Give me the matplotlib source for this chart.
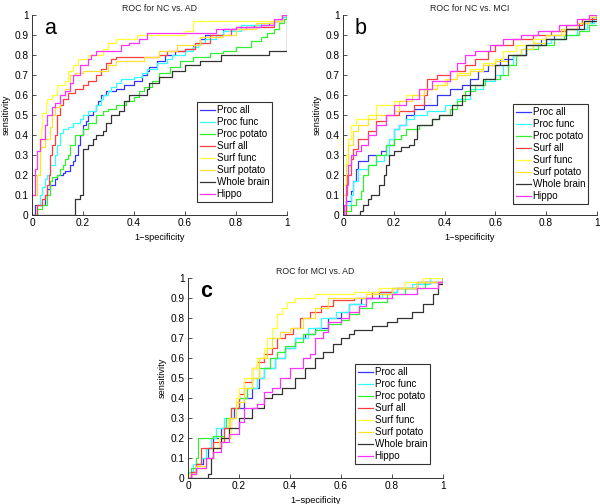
import matplotlib.pyplot as plt
from matplotlib.ticker import FormatStrFormatter

plt.rcParams['font.family'] = ['Liberation Sans', 'DejaVu Sans']

labels = ["Proc all", "Proc func", "Proc potato", "Surf all",
          "Surf func", "Surf potato", "Whole brain", "Hippo"]
colors = ["#3535ff", "#33ffff", "#33f033", "#ff3e3e",
          "#ffff33", "#ffe033", "#333333", "#ff33ff"]

# corner points (1-specificity, sensitivity) of each ROC staircase
# NC vs. AD
a_proc_all = [(0, 0), (0.01, 0.05), (0.05, 0.1), (0.06, 0.13), (0.07, 0.15), (0.09, 0.18), (0.1, 0.2),
              (0.12, 0.21), (0.13, 0.22), (0.15, 0.25), (0.16, 0.27), (0.17, 0.3), (0.18, 0.35), (0.19, 0.4),
              (0.2, 0.45), (0.21, 0.47), (0.22, 0.5), (0.24, 0.52), (0.25, 0.55), (0.26, 0.57), (0.27, 0.6),
              (0.29, 0.62), (0.33, 0.63), (0.36, 0.65), (0.4, 0.67), (0.43, 0.7), (0.45, 0.72), (0.46, 0.74),
              (0.49, 0.77), (0.52, 0.8), (0.56, 0.82), (0.6, 0.83), (0.63, 0.85), (0.66, 0.88), (0.68, 0.9),
              (0.75, 0.93), (0.8, 0.94), (0.87, 0.95), (0.93, 0.96), (0.95, 0.97), (0.98, 0.99), (1, 1)]
a_proc_func = [(0, 0), (0.02, 0.05), (0.03, 0.1), (0.04, 0.14), (0.05, 0.18), (0.06, 0.2), (0.07, 0.25),
               (0.09, 0.3), (0.1, 0.35), (0.11, 0.41), (0.12, 0.43), (0.14, 0.44), (0.16, 0.46), (0.19, 0.48),
               (0.2, 0.5), (0.22, 0.52), (0.25, 0.55), (0.27, 0.58), (0.28, 0.6), (0.3, 0.62), (0.31, 0.64),
               (0.33, 0.66), (0.35, 0.68), (0.4, 0.69), (0.43, 0.71), (0.45, 0.73), (0.49, 0.76), (0.53, 0.78),
               (0.55, 0.8), (0.6, 0.82), (0.63, 0.84), (0.65, 0.86), (0.68, 0.88), (0.72, 0.9), (0.75, 0.92),
               (0.82, 0.95), (0.9, 0.96), (0.95, 0.97), (0.98, 0.99), (1, 1)]
a_proc_potato = [(0, 0), (0.02, 0.03), (0.04, 0.05), (0.06, 0.1), (0.07, 0.17), (0.08, 0.19), (0.1, 0.2),
                 (0.11, 0.23), (0.12, 0.25), (0.13, 0.28), (0.14, 0.3), (0.15, 0.35), (0.17, 0.4), (0.2, 0.43),
                 (0.22, 0.46), (0.25, 0.5), (0.28, 0.52), (0.3, 0.53), (0.33, 0.55), (0.37, 0.57), (0.4, 0.59),
                 (0.42, 0.62), (0.44, 0.64), (0.47, 0.67), (0.5, 0.71), (0.54, 0.74), (0.58, 0.77), (0.63, 0.79),
                 (0.7, 0.81), (0.75, 0.82), (0.8, 0.84), (0.86, 0.87), (0.9, 0.89), (0.92, 0.91), (0.95, 0.93),
                 (0.97, 0.96), (0.99, 0.98), (1, 1)]
a_surf_all = [(0, 0), (0.02, 0.05), (0.04, 0.08), (0.05, 0.1), (0.06, 0.15), (0.065, 0.2), (0.07, 0.3),
              (0.08, 0.35), (0.09, 0.4), (0.1, 0.5), (0.11, 0.55), (0.12, 0.58), (0.14, 0.61), (0.17, 0.63),
              (0.2, 0.65), (0.22, 0.67), (0.25, 0.7), (0.27, 0.73), (0.29, 0.76), (0.31, 0.78), (0.33, 0.79),
              (0.5, 0.8), (0.53, 0.82), (0.6, 0.83), (0.64, 0.86), (0.7, 0.9), (0.78, 0.93), (0.84, 0.94),
              (0.95, 0.97), (0.98, 1), (1, 1)]
a_surf_func = [(0, 0.1), (0.02, 0.2), (0.03, 0.33), (0.035, 0.43), (0.04, 0.51), (0.055, 0.56), (0.06, 0.58),
               (0.08, 0.6), (0.1, 0.65), (0.13, 0.67), (0.14, 0.72), (0.16, 0.75), (0.18, 0.78), (0.22, 0.8),
               (0.28, 0.83), (0.3, 0.86), (0.33, 0.88), (0.41, 0.9), (0.6, 0.92), (0.63, 0.97), (0.98, 1), (1, 1)]
a_surf_potato = [(0, 0.1), (0.02, 0.2), (0.03, 0.34), (0.05, 0.38), (0.07, 0.44), (0.08, 0.5), (0.09, 0.54),
                 (0.11, 0.6), (0.13, 0.63), (0.15, 0.7), (0.17, 0.71), (0.2, 0.72), (0.3, 0.75), (0.33, 0.77),
                 (0.44, 0.79), (0.5, 0.82), (0.57, 0.85), (0.66, 0.89), (0.75, 0.9), (0.8, 0.93), (0.88, 0.96),
                 (0.95, 0.97), (0.98, 1), (1, 1)]
a_whole_brain = [(0, 0), (0.17, 0.08), (0.19, 0.1), (0.2, 0.33), (0.22, 0.35), (0.24, 0.38), (0.25, 0.4),
                 (0.28, 0.42), (0.29, 0.46), (0.31, 0.5), (0.34, 0.52), (0.36, 0.57), (0.38, 0.6), (0.45, 0.63),
                 (0.46, 0.66), (0.5, 0.69), (0.55, 0.72), (0.6, 0.75), (0.66, 0.77), (0.74, 0.8), (0.93, 0.82),
                 (1, 1)]
a_hippo = [(0, 0.1), (0.01, 0.23), (0.02, 0.32), (0.03, 0.38), (0.05, 0.45), (0.06, 0.5), (0.08, 0.54),
           (0.09, 0.56), (0.11, 0.6), (0.13, 0.62), (0.15, 0.66), (0.16, 0.7), (0.19, 0.75), (0.22, 0.78),
           (0.23, 0.8), (0.25, 0.82), (0.35, 0.85), (0.38, 0.86), (0.42, 0.88), (0.45, 0.91), (0.72, 0.93),
           (0.8, 0.94), (0.9, 0.95), (0.95, 0.98), (0.98, 1), (1, 1)]

# NC vs. MCI
b_proc_all = [(0, 0), (0.005, 0.02), (0.01, 0.07), (0.03, 0.12), (0.04, 0.17), (0.05, 0.23), (0.06, 0.27),
              (0.1, 0.3), (0.15, 0.32), (0.17, 0.35), (0.2, 0.43), (0.22, 0.45), (0.25, 0.5), (0.28, 0.53),
              (0.32, 0.55), (0.37, 0.6), (0.42, 0.63), (0.47, 0.65), (0.5, 0.68), (0.53, 0.72), (0.57, 0.75),
              (0.62, 0.78), (0.67, 0.8), (0.72, 0.85), (0.78, 0.88), (0.83, 0.9), (0.88, 0.93), (0.93, 0.96),
              (0.98, 0.99), (1, 1)]
b_proc_func = [(0, 0), (0.005, 0.02), (0.01, 0.05), (0.03, 0.1), (0.04, 0.17), (0.06, 0.23), (0.1, 0.25),
               (0.13, 0.27), (0.16, 0.3), (0.18, 0.38), (0.2, 0.43), (0.22, 0.45), (0.25, 0.48), (0.28, 0.5),
               (0.33, 0.52), (0.4, 0.55), (0.45, 0.58), (0.5, 0.63), (0.55, 0.67), (0.6, 0.7), (0.63, 0.75),
               (0.67, 0.8), (0.7, 0.83), (0.75, 0.86), (0.82, 0.88), (0.88, 0.9), (0.92, 0.93), (0.96, 0.96),
               (0.99, 0.99), (1, 1)]
b_proc_potato = [(0, 0), (0.005, 0.02), (0.03, 0.05), (0.05, 0.08), (0.07, 0.12), (0.08, 0.2), (0.1, 0.25),
                 (0.13, 0.3), (0.17, 0.35), (0.2, 0.38), (0.23, 0.4), (0.25, 0.43), (0.3, 0.45), (0.35, 0.48),
                 (0.38, 0.5), (0.42, 0.53), (0.45, 0.57), (0.48, 0.62), (0.52, 0.65), (0.56, 0.68), (0.62, 0.7),
                 (0.65, 0.75), (0.68, 0.8), (0.72, 0.83), (0.77, 0.85), (0.83, 0.88), (0.87, 0.9), (0.93, 0.92),
                 (0.97, 0.95), (1, 1)]
b_surf_all = [(0, 0), (0.01, 0.1), (0.015, 0.2), (0.03, 0.28), (0.04, 0.33), (0.06, 0.38), (0.1, 0.42),
              (0.13, 0.47), (0.17, 0.5), (0.22, 0.52), (0.28, 0.55), (0.32, 0.6), (0.33, 0.68), (0.37, 0.7),
              (0.42, 0.72), (0.48, 0.75), (0.52, 0.78), (0.57, 0.82), (0.6, 0.85), (0.67, 0.88), (0.75, 0.9),
              (0.82, 0.92), (0.88, 0.95), (0.94, 0.98), (1, 1)]
b_surf_func = [(0, 0.15), (0.01, 0.3), (0.02, 0.38), (0.03, 0.45), (0.05, 0.48), (0.1, 0.5), (0.13, 0.55),
               (0.2, 0.57), (0.25, 0.6), (0.3, 0.63), (0.35, 0.65), (0.4, 0.68), (0.45, 0.71), (0.5, 0.73),
               (0.55, 0.76), (0.6, 0.78), (0.63, 0.82), (0.68, 0.85), (0.75, 0.88), (0.8, 0.9), (0.87, 0.93),
               (0.92, 0.96), (0.97, 0.99), (1, 1)]
b_surf_potato = [(0, 0.1), (0.01, 0.25), (0.02, 0.35), (0.04, 0.42), (0.06, 0.45), (0.1, 0.48), (0.13, 0.5),
                 (0.2, 0.52), (0.22, 0.57), (0.27, 0.6), (0.32, 0.63), (0.37, 0.65), (0.41, 0.68), (0.45, 0.7),
                 (0.5, 0.72), (0.55, 0.75), (0.6, 0.77), (0.65, 0.8), (0.7, 0.83), (0.75, 0.86), (0.8, 0.9),
                 (0.86, 0.93), (0.92, 0.96), (0.97, 0.99), (1, 1)]
b_whole_brain = [(0, 0), (0.065, 0.02), (0.08, 0.05), (0.1, 0.08), (0.11, 0.1), (0.14, 0.15), (0.16, 0.2),
                 (0.17, 0.25), (0.18, 0.3), (0.2, 0.32), (0.23, 0.34), (0.26, 0.35), (0.28, 0.38), (0.29, 0.45),
                 (0.35, 0.48), (0.38, 0.5), (0.43, 0.55), (0.47, 0.6), (0.5, 0.65), (0.55, 0.68), (0.6, 0.75),
                 (0.65, 0.8), (0.72, 0.85), (0.8, 0.88), (0.88, 0.93), (0.95, 0.97), (1, 1)]
b_hippo = [(0, 0), (0.005, 0.05), (0.01, 0.15), (0.02, 0.25), (0.03, 0.3), (0.05, 0.32), (0.07, 0.35),
           (0.1, 0.4), (0.13, 0.45), (0.17, 0.5), (0.2, 0.55), (0.25, 0.58), (0.3, 0.63), (0.35, 0.67),
           (0.42, 0.72), (0.45, 0.76), (0.48, 0.8), (0.52, 0.82), (0.58, 0.85), (0.63, 0.88), (0.7, 0.9),
           (0.77, 0.92), (0.85, 0.95), (0.92, 0.98), (0.97, 1), (1, 1)]

# MCI vs. AD
c_proc_all = [(0, 0), (0.01, 0.03), (0.03, 0.07), (0.06, 0.1), (0.08, 0.15), (0.1, 0.2), (0.13, 0.25),
              (0.16, 0.3), (0.18, 0.35), (0.22, 0.4), (0.25, 0.45), (0.28, 0.5), (0.3, 0.55), (0.34, 0.6),
              (0.38, 0.65), (0.42, 0.7), (0.46, 0.72), (0.5, 0.75), (0.55, 0.8), (0.6, 0.83), (0.63, 0.87),
              (0.68, 0.9), (0.75, 0.93), (0.82, 0.95), (0.9, 0.98), (1, 1)]
c_proc_func = [(0, 0), (0.005, 0.03), (0.02, 0.07), (0.05, 0.1), (0.07, 0.15), (0.09, 0.2), (0.11, 0.25),
               (0.14, 0.3), (0.17, 0.35), (0.2, 0.4), (0.23, 0.45), (0.27, 0.5), (0.3, 0.55), (0.34, 0.6),
               (0.38, 0.65), (0.42, 0.7), (0.47, 0.75), (0.52, 0.8), (0.58, 0.83), (0.63, 0.87), (0.7, 0.9),
               (0.76, 0.93), (0.82, 0.95), (0.88, 0.97), (0.95, 1), (1, 1)]
c_proc_potato = [(0, 0), (0.01, 0.05), (0.03, 0.1), (0.04, 0.2), (0.1, 0.21), (0.14, 0.25), (0.15, 0.3),
                 (0.17, 0.35), (0.2, 0.4), (0.23, 0.45), (0.25, 0.5), (0.28, 0.55), (0.32, 0.6), (0.35, 0.63),
                 (0.38, 0.66), (0.42, 0.68), (0.45, 0.72), (0.5, 0.74), (0.55, 0.77), (0.6, 0.79), (0.63, 0.82),
                 (0.67, 0.85), (0.72, 0.88), (0.78, 0.92), (0.85, 0.95), (0.93, 0.98), (1, 1)]
c_surf_all = [(0, 0), (0.01, 0.03), (0.03, 0.07), (0.05, 0.15), (0.1, 0.18), (0.14, 0.25), (0.17, 0.35),
              (0.2, 0.42), (0.22, 0.48), (0.25, 0.55), (0.27, 0.58), (0.3, 0.62), (0.33, 0.65), (0.35, 0.7),
              (0.38, 0.72), (0.41, 0.75), (0.44, 0.8), (0.48, 0.83), (0.52, 0.86), (0.57, 0.89), (0.65, 0.9),
              (0.72, 0.93), (0.8, 0.95), (0.9, 0.98), (1, 1)]
c_surf_func = [(0, 0), (0.005, 0.02), (0.03, 0.05), (0.07, 0.1), (0.1, 0.15), (0.12, 0.2), (0.17, 0.3),
               (0.19, 0.4), (0.2, 0.45), (0.22, 0.5), (0.25, 0.55), (0.27, 0.6), (0.3, 0.65), (0.31, 0.7),
               (0.33, 0.75), (0.35, 0.82), (0.37, 0.85), (0.39, 0.88), (0.42, 0.9), (0.5, 0.92), (0.65, 0.93),
               (0.75, 0.95), (0.85, 0.98), (0.92, 1), (1, 1)]
c_surf_potato = [(0, 0), (0.01, 0.02), (0.03, 0.06), (0.07, 0.1), (0.1, 0.15), (0.13, 0.2), (0.16, 0.3),
                 (0.19, 0.38), (0.22, 0.45), (0.25, 0.5), (0.28, 0.6), (0.31, 0.65), (0.33, 0.7), (0.36, 0.73),
                 (0.4, 0.75), (0.45, 0.8), (0.5, 0.85), (0.55, 0.9), (0.7, 0.92), (0.8, 0.95), (0.9, 0.98),
                 (1, 1)]
c_whole_brain = [(0, 0), (0.08, 0.02), (0.09, 0.1), (0.1, 0.15), (0.13, 0.2), (0.16, 0.25), (0.2, 0.3),
                 (0.25, 0.35), (0.3, 0.4), (0.33, 0.42), (0.37, 0.45), (0.42, 0.5), (0.46, 0.55), (0.5, 0.6),
                 (0.53, 0.63), (0.57, 0.67), (0.6, 0.7), (0.63, 0.72), (0.65, 0.74), (0.72, 0.76), (0.78, 0.78),
                 (0.82, 0.8), (0.88, 0.83), (0.92, 0.87), (0.96, 0.92), (0.98, 0.97), (1, 1)]
c_hippo = [(0, 0), (0.01, 0.02), (0.03, 0.05), (0.07, 0.1), (0.1, 0.13), (0.13, 0.18), (0.16, 0.22),
           (0.2, 0.28), (0.22, 0.35), (0.27, 0.37), (0.3, 0.43), (0.33, 0.45), (0.36, 0.5), (0.4, 0.55),
           (0.45, 0.6), (0.48, 0.62), (0.5, 0.7), (0.53, 0.73), (0.55, 0.78), (0.6, 0.8), (0.63, 0.83),
           (0.67, 0.86), (0.7, 0.9), (0.8, 0.92), (0.9, 0.95), (0.98, 0.98), (1, 1)]

panels = [
    ("ROC for NC vs. AD", "a", "normal", [0.0533, 0.5734, 0.425, 0.397], (0.647, 0.563),
     [a_proc_all, a_proc_func, a_proc_potato, a_surf_all, a_surf_func, a_surf_potato, a_whole_brain, a_hippo]),
    ("ROC for NC vs. MCI", "b", "normal", [0.5717, 0.5734, 0.423, 0.397], (0.669, 0.553),
     [b_proc_all, b_proc_func, b_proc_potato, b_surf_all, b_surf_func, b_surf_potato, b_whole_brain, b_hippo]),
    ("ROC for MCI vs. AD", "c", "bold", [0.3133, 0.0516, 0.425, 0.397], (0.655, 0.568),
     [c_proc_all, c_proc_func, c_proc_potato, c_surf_all, c_surf_func, c_surf_potato, c_whole_brain, c_hippo]),
]

fig = plt.figure(figsize=(6, 5.04), dpi=100)

for title, letter, weight, pos, leg_pos, curves in panels:
    ax = fig.add_axes(pos)
    for pts, lab, col in zip(curves, labels, colors):
        xs = [p[0] for p in pts]
        ys = [p[1] for p in pts]
        ax.step(xs, ys, where="post", color=col, lw=0.9, label=lab)
    ax.set_xlim(0, 1)
    ax.set_ylim(0, 1)
    ax.set_xticks([0, 0.2, 0.4, 0.6, 0.8, 1])
    ax.set_yticks([i / 10 for i in range(11)])
    ax.xaxis.set_major_formatter(FormatStrFormatter("%g"))
    ax.yaxis.set_major_formatter(FormatStrFormatter("%g"))
    ax.tick_params(direction="in", length=3, labelsize=7.3, width=0.6, color="#333333", pad=2.5)
    for side in ["top", "right"]:
        ax.spines[side].set_visible(False)
    for side in ["left", "bottom"]:
        ax.spines[side].set_color("#333333")
        ax.spines[side].set_linewidth(0.7)
    ax.set_title(title, fontsize=6.3, pad=3, color="#222222")
    ax.set_xlabel("1\u2212specificity", fontsize=6.6, labelpad=3)
    ax.set_ylabel("sensitivity", fontsize=6.6, labelpad=3)
    ax.text(0.07, 0.93, letter, transform=ax.transAxes, fontsize=15.5, fontweight=weight,
            ha="center", va="center")
    leg = ax.legend(loc="upper left", bbox_to_anchor=leg_pos, fontsize=7.1, frameon=True,
                    fancybox=False, framealpha=1, edgecolor="#333333", handlelength=1.5,
                    handletextpad=0.2, labelspacing=0.2, borderpad=0.3, borderaxespad=0)
    leg.get_frame().set_linewidth(0.8)

fig.savefig("out.png", dpi=100)
